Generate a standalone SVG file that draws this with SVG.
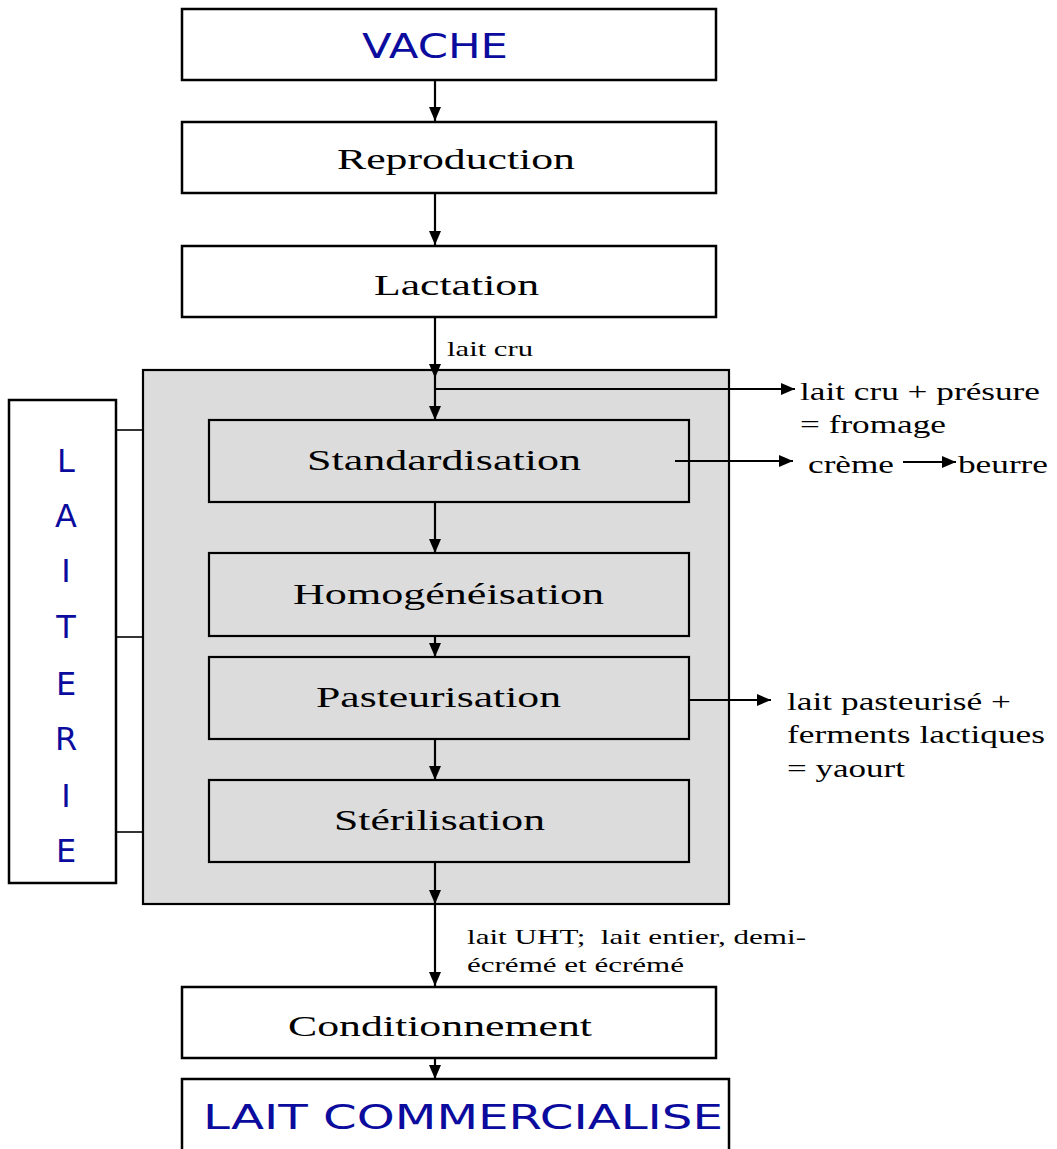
<svg xmlns="http://www.w3.org/2000/svg" width="1057" height="1149" viewBox="0 0 1057 1149">
<style>
.box{fill:#fff;stroke:#000;stroke-width:2.5}
.ibox{fill:#dcdcdc;stroke:#000;stroke-width:2.2}
.t{font-family:"Liberation Serif","Times New Roman",serif;font-size:30px;fill:#000}
.s{font-family:"Liberation Serif","Times New Roman",serif;font-size:26px;fill:#000}
.xs{font-family:"Liberation Serif","Times New Roman",serif;font-size:21px;fill:#000}
.c{font-family:"DejaVu Sans","Liberation Sans",sans-serif;font-size:33px;fill:#0b0b9e}
.l{font-family:"DejaVu Sans","Liberation Sans",sans-serif;font-size:32px;fill:#0b0b9e;text-anchor:middle}
.ln{stroke:#000;stroke-width:2.2;fill:none}
.thin{stroke:#000;stroke-width:1.6;fill:none}
</style>
<defs>
<marker id="ah" viewBox="0 0 14 12" refX="14" refY="6" markerWidth="14" markerHeight="12" markerUnits="userSpaceOnUse" orient="auto">
<path d="M0,0 L14,6 L0,12 z" fill="#000"/>
</marker>
</defs>

<g id="laiterie-zone">
<rect class="ibox" x="143" y="370" width="586" height="534" stroke-width="2.5"/>
</g>

<g id="vache"><rect class="box" x="182" y="9" width="534" height="71"/>
<text class="c" x="362" y="58" textLength="146" lengthAdjust="spacingAndGlyphs">VACHE</text></g>
<g id="reproduction"><rect class="box" x="182" y="122" width="534" height="71"/>
<text class="t" x="337" y="169" textLength="238" lengthAdjust="spacingAndGlyphs">Reproduction</text></g>
<g id="lactation"><rect class="box" x="182" y="246" width="534" height="71"/>
<text class="t" x="374" y="295" textLength="165" lengthAdjust="spacingAndGlyphs">Lactation</text></g>

<g id="standardisation"><rect class="ibox" x="209" y="420" width="480" height="82"/>
<text class="t" x="307" y="470" textLength="274" lengthAdjust="spacingAndGlyphs">Standardisation</text></g>
<g id="homogeneisation"><rect class="ibox" x="209" y="553" width="480" height="83"/>
<text class="t" x="293" y="604" textLength="311" lengthAdjust="spacingAndGlyphs">Homogénéisation</text></g>
<g id="pasteurisation"><rect class="ibox" x="209" y="657" width="480" height="82"/>
<text class="t" x="316" y="707" textLength="245" lengthAdjust="spacingAndGlyphs">Pasteurisation</text></g>
<g id="sterilisation"><rect class="ibox" x="209" y="780" width="480" height="82"/>
<text class="t" x="334" y="830" textLength="211" lengthAdjust="spacingAndGlyphs">Stérilisation</text></g>

<g id="conditionnement"><rect class="box" x="182" y="987" width="534" height="71"/>
<text class="t" x="288" y="1036" textLength="304" lengthAdjust="spacingAndGlyphs">Conditionnement</text></g>
<g id="lait-commercialise"><rect class="box" x="182" y="1079" width="547" height="80"/>
<text class="c" x="203" y="1129" textLength="520" lengthAdjust="spacingAndGlyphs">LAIT COMMERCIALISE</text></g>

<g id="laiterie"><rect class="box" x="9" y="400" width="107" height="483"/>
<text class="l" x="66" y="472">L</text>
<text class="l" x="66" y="527">A</text>
<text class="l" x="66" y="582">I</text>
<text class="l" x="66" y="638">T</text>
<text class="l" x="66" y="695">E</text>
<text class="l" x="66" y="750">R</text>
<text class="l" x="66" y="807">I</text>
<text class="l" x="66" y="862">E</text></g>

<g id="connectors">
<line class="ln" x1="435" y1="80" x2="435" y2="121" marker-end="url(#ah)"/>
<line class="ln" x1="435" y1="193" x2="435" y2="245" marker-end="url(#ah)"/>
<line class="ln" x1="435" y1="317" x2="435" y2="378" marker-end="url(#ah)"/>
<line class="ln" x1="435" y1="378" x2="435" y2="420" marker-end="url(#ah)"/>
<line class="ln" x1="435" y1="389" x2="795" y2="389" marker-end="url(#ah)"/>
<line class="ln" x1="675" y1="461" x2="793" y2="461" marker-end="url(#ah)"/>
<line class="ln" x1="903" y1="462" x2="956" y2="462" marker-end="url(#ah)"/>
<line class="ln" x1="435" y1="502" x2="435" y2="553" marker-end="url(#ah)"/>
<line class="ln" x1="435" y1="636" x2="435" y2="657" marker-end="url(#ah)"/>
<line class="ln" x1="689" y1="700" x2="771" y2="700" marker-end="url(#ah)"/>
<line class="ln" x1="435" y1="739" x2="435" y2="780" marker-end="url(#ah)"/>
<line class="ln" x1="435" y1="862" x2="435" y2="904" marker-end="url(#ah)"/>
<line class="ln" x1="435" y1="904" x2="435" y2="986" marker-end="url(#ah)"/>
<line class="ln" x1="435" y1="1058" x2="435" y2="1079" marker-end="url(#ah)"/>
<line class="thin" x1="116" y1="430" x2="143" y2="430"/>
<line class="thin" x1="116" y1="637" x2="143" y2="637"/>
<line class="thin" x1="116" y1="832" x2="143" y2="832"/>
</g>

<g id="labels">
<text class="xs" x="447" y="356" textLength="86" lengthAdjust="spacingAndGlyphs">lait cru</text>
<text class="s" x="800" y="400" textLength="240" lengthAdjust="spacingAndGlyphs">lait cru + présure</text>
<text class="s" x="800" y="433" textLength="146" lengthAdjust="spacingAndGlyphs">= fromage</text>
<text class="s" x="808" y="473" textLength="86" lengthAdjust="spacingAndGlyphs">crème</text>
<text class="s" x="958" y="473" textLength="90" lengthAdjust="spacingAndGlyphs">beurre</text>
<text class="s" x="787" y="710" textLength="224" lengthAdjust="spacingAndGlyphs">lait pasteurisé +</text>
<text class="s" x="787" y="743" textLength="258" lengthAdjust="spacingAndGlyphs">ferments lactiques</text>
<text class="s" x="787" y="777" textLength="118" lengthAdjust="spacingAndGlyphs">= yaourt</text>
<text class="xs" x="467" y="944" textLength="339" lengthAdjust="spacingAndGlyphs" xml:space="preserve">lait UHT;  lait entier, demi-</text>
<text class="xs" x="467" y="972" textLength="217" lengthAdjust="spacingAndGlyphs">écrémé et écrémé</text>
</g>
</svg>
